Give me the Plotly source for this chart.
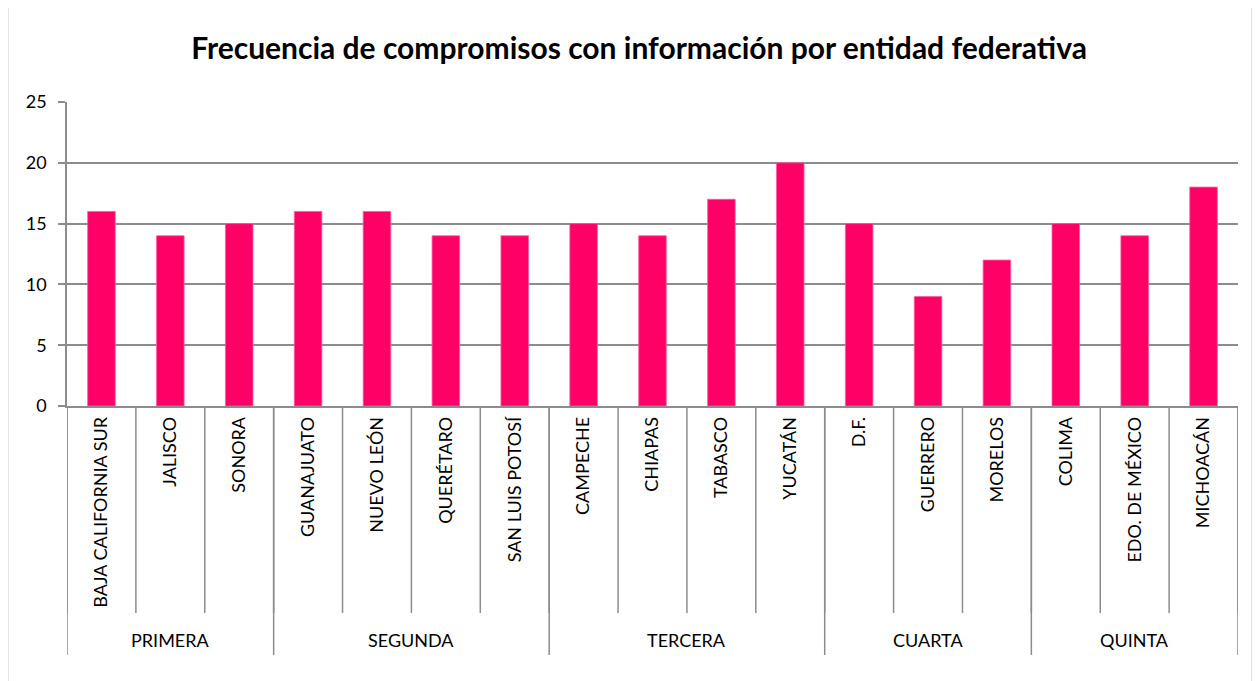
import plotly.graph_objects as go

states = ["BAJA CALIFORNIA SUR", "JALISCO", "SONORA",
          "GUANAJUATO", "NUEVO LEÓN", "QUERÉTARO", "SAN LUIS POTOSÍ",
          "CAMPECHE", "CHIAPAS", "TABASCO", "YUCATÁN",
          "D.F.", "GUERRERO", "MORELOS",
          "COLIMA", "EDO. DE MÉXICO", "MICHOACÁN"]
values = [16, 14, 15, 16, 16, 14, 14, 15, 14, 17, 20, 15, 9, 12, 15, 14, 18]
groups = ["PRIMERA", "SEGUNDA", "TERCERA", "CUARTA", "QUINTA"]
group_sizes = [3, 4, 4, 3, 3]
y_ticks = [0, 5, 10, 15, 20, 25]

OFF = 8  # default body margin of the page
W, H = 1260 - OFF, 681 - OFF
PL, PR, PT, PB = 67, 1238, 102, 406
L, T = PL - OFF, PT - OFF
R = W - (PR - OFF)
B = H - (PB - OFF)
pw, ph = PR - PL, PB - PT

def py(pix):
    return (PB - pix) / ph

def px(pix):
    return (pix - PL) / pw

FONT = "Lato"
GRID = "#8c8c8c"

fig = go.Figure(go.Bar(x=list(range(len(states))), y=values,
                       marker=dict(color="#FF0066", line=dict(color="#FF5C9D", width=0.8)),
                       width=0.4))

shapes = []
for i in range(len(states) + 1):
    shapes.append(dict(type="line", xref="x", yref="paper", x0=i - 0.5, x1=i - 0.5,
                       y0=0, y1=py(613), line=dict(color=GRID, width=1.5)))
b = 0
bounds = [0]
for s in group_sizes:
    b += s
    bounds.append(b)
for bd in bounds:
    shapes.append(dict(type="line", xref="x", yref="paper", x0=bd - 0.5, x1=bd - 0.5,
                       y0=0, y1=py(655), line=dict(color=GRID, width=1.5)))
shapes.append(dict(type="rect", xref="paper", yref="paper", x0=px(8), x1=px(1252),
                   y0=py(700), y1=py(7), line=dict(color="#d9d9d9", width=1.5),
                   fillcolor="rgba(0,0,0,0)", layer="below"))

annotations = []
for gname, a, bnd in zip(groups, bounds[:-1], bounds[1:]):
    annotations.append(dict(x=(a + bnd - 1) / 2, xref="x", y=py(640), yref="paper",
                            yanchor="middle", xanchor="center",
                            text=gname, showarrow=False,
                            font=dict(family=FONT, size=18, color="#000")))

fig.update_layout(
    width=W, height=H,
    margin=dict(l=L, r=R, t=T, b=B),
    paper_bgcolor="white", plot_bgcolor="white",
    title=dict(text="<b>Frecuencia de compromisos con información por entidad federativa</b>",
               x=px(639), xref="paper", xanchor="center", y=1 - (48 - OFF) / H, yanchor="middle",
               font=dict(family=FONT, size=30, color="#000")),
    showlegend=False,
    shapes=shapes,
    annotations=annotations,
    xaxis=dict(tickmode="array", tickvals=list(range(len(states))), ticktext=states,
               tickangle=-90, range=[-0.5, len(states) - 0.5], showgrid=False,
               showline=True, linecolor=GRID, linewidth=1.5, ticks="",
               tickfont=dict(family=FONT, size=18, color="#000"), ticklabelstandoff=2),
    yaxis=dict(range=[0, 25], tickvals=y_ticks, showgrid=True, gridcolor=GRID, gridwidth=1.5,
               showline=True, linecolor=GRID, linewidth=1.5, ticks="outside", ticklen=7,
               tickcolor=GRID, tickwidth=1.5, zeroline=False, ticklabelstandoff=8,
               tickfont=dict(family=FONT, size=18, color="#000")),
)

fig.write_html("out.html")
